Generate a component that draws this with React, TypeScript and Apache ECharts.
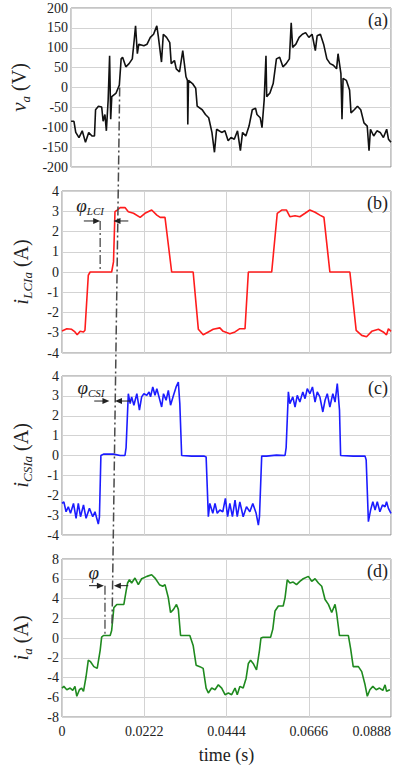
import React, { useEffect, useRef } from "react";
import * as echarts from "echarts";

// time in milliseconds, value
const vaSamples: number[][] = [
  [0, -85], [0.8, -85], [1.3, -113], [2.2, -126], [3.1, -109], [4.0, -138], [4.9, -113], [5.8, -122],
  [6.5, -122], [6.8, -56], [7.6, -47], [8.5, -49], [8.9, -85], [9.4, -68], [9.8, -109], [10.3, -31],
  [10.7, 80], [11.0, -80], [11.3, -23], [12.5, -14], [13.4, 6], [13.9, 72], [14.3, 76], [15.2, 52],
  [16.1, 60], [17.0, 72], [17.5, 117], [17.9, 155], [18.4, 85], [18.8, 109], [20.2, 105], [21.1, 109],
  [22.0, 126], [22.9, 134], [23.8, 155], [24.2, 130], [25.1, 64], [25.6, 134], [26.5, 126], [27.4, 113],
  [27.8, 60], [28.7, 68], [29.2, 47], [30.1, 39], [31.0, 93], [31.9, 27], [32.3, 18], [32.4, -93],
  [32.6, 18], [33.7, 10], [34.6, -2], [35.0, -47], [36.4, -56], [37.3, -68], [38.2, -76], [39.1, -113],
  [39.8, -163], [40.4, -105], [41.8, -113], [42.7, -109], [43.6, -134], [44.4, -126], [45.3, -130],
  [46.2, -109], [47.0, -159], [47.6, -113], [48.5, -122], [49.4, -97], [50.3, -56], [51.2, -52],
  [51.6, -68], [52.5, -76], [53.0, -101], [53.6, -31], [54.1, 80], [54.3, -23], [55.2, -14], [56.1, 10],
  [57.0, 72], [57.9, 76], [58.8, 52], [59.7, 60], [60.6, 72], [61.1, 163], [61.5, 101], [62.4, 109],
  [63.3, 126], [64.2, 134], [65.1, 138], [66.0, 126], [66.9, 134], [67.8, 93], [68.3, 130], [69.2, 134],
  [70.1, 109], [71.0, 72], [71.9, 60], [72.8, 56], [73.7, 47], [74.1, 85], [74.9, 35], [75.2, -80],
  [75.5, 23], [76.4, 18], [77.3, -6], [77.7, -64], [78.6, -56], [79.5, -47], [80.4, -56], [81.3, -89],
  [82.2, -97], [82.7, -159], [83.1, -105], [84.0, -122], [84.9, -109], [85.8, -113], [86.7, -126],
  [87.6, -105], [88.1, -130], [88.8, -138],
];

const iLciSamples: number[][] = [
  [0, -2.91], [1.3, -2.8], [2.6, -2.83], [3.5, -2.96], [4.1, -3.1], [4.9, -2.93], [5.8, -2.96],
  [6.2, -2.88], [7.1, -0.16], [7.6, 0], [13.4, 0], [13.9, 0.5], [14.3, 2.98], [14.9, 3.06], [15.7, 3.18],
  [17.0, 3.18], [17.9, 2.98], [19.3, 2.9], [21.1, 2.7], [22.4, 2.9], [24.2, 3.06], [25.6, 2.81],
  [26.5, 2.7], [27.8, 2.7], [29.6, 0], [35.0, 0], [35.4, 0], [36.8, -2.83], [38.1, -3.1], [39.5, -2.96],
  [40.8, -2.83], [42.6, -2.76], [43.5, -2.93], [45.3, -3.05], [46.7, -2.96], [48.0, -2.8], [49.4, -2.8],
  [50.3, 0], [56.6, 0], [58.1, 2.9], [59.3, 3.06], [60.6, 3.06], [61.5, 2.73], [62.9, 2.78], [64.2, 2.73],
  [65.6, 2.9], [66.9, 3.06], [68.3, 2.95], [69.6, 2.81], [70.7, 2.7], [72.3, 0], [77.7, 0], [79.4, -2.88],
  [80.9, -3.13], [82.2, -3.2], [83.6, -2.93], [85.4, -2.83], [86.7, -2.96], [87.6, -3.1], [88.1, -2.8],
  [88.8, -2.93],
];

const iCsiSamples: number[][] = [
  [0, -2.41], [0.5, -2.33], [1.1, -2.83], [1.7, -2.58], [2.3, -2.91], [3.1, -2.41], [3.8, -3.16],
  [4.4, -2.41], [5.0, -3.08], [5.8, -2.49], [6.5, -3.16], [7.4, -2.66], [8.3, -3.08], [8.9, -2.83],
  [9.8, -3.45], [10.1, -3.1], [10.5, 0], [11.2, 0.07], [13.9, 0.07], [15.7, 0], [17.0, 0], [17.3, 0.4],
  [17.9, 3.11], [18.4, 2.61], [18.8, 2.95], [19.4, 2.53], [20.2, 3.11], [20.9, 2.28], [21.5, 2.95],
  [22.1, 3.11], [22.9, 3.03], [23.5, 3.2], [23.9, 2.95], [24.5, 3.45], [25.1, 3.03], [25.6, 3.36],
  [26.3, 2.86], [26.9, 2.44], [27.4, 3.11], [28.1, 2.78], [28.7, 3.28], [29.3, 2.53], [30.1, 3.03],
  [30.8, 3.45], [31.4, 3.7], [31.8, 2.61], [32.3, 0], [35.0, -0.03], [38.3, -0.03], [38.9, -0.07],
  [39.5, -3.08], [39.9, -2.41], [40.7, -2.91], [41.3, -2.41], [41.9, -2.91], [42.6, -2.74], [43.4, -2.83],
  [44.1, -2.16], [44.7, -3.08], [45.3, -2.41], [46.0, -3.08], [46.7, -2.24], [47.3, -3.08], [48.0, -2.33],
  [48.9, -3.08], [49.8, -2.58], [50.7, -2.83], [51.5, -2.41], [52.4, -2.91], [53.0, -3.5], [53.3, -3.08],
  [53.9, -0.03], [55.2, -0.03], [57.9, 0.02], [60.2, 0], [60.5, 0.4], [61.1, 3.2], [61.5, 2.61],
  [62.3, 2.95], [62.9, 2.44], [63.5, 3.03], [64.2, 2.69], [65.0, 3.2], [65.6, 2.86], [66.2, 3.36],
  [66.9, 3.11], [67.6, 3.45], [68.3, 2.69], [68.9, 3.2], [69.6, 2.95], [70.4, 2.19], [71.0, 2.78],
  [71.6, 3.11], [72.3, 2.44], [73.1, 3.11], [73.7, 2.69], [74.3, 3.62], [74.9, 2.28], [75.2, 0],
  [78.6, -0.03], [81.8, -0.03], [82.1, -0.23], [82.7, -3.33], [83.3, -2.74], [83.9, -2.33], [84.5, -2.74],
  [85.1, -2.33], [85.8, -2.83], [86.5, -2.49], [87.2, -2.58], [87.6, -2.33], [88.1, -2.66], [88.8, -2.91],
];

const iaSamples: number[][] = [
  [0, -5.07], [0.5, -4.9], [1.3, -5.24], [2.2, -5.07], [2.9, -5.3], [3.5, -4.9], [4.0, -5.9], [4.7, -5.24],
  [5.3, -5.07], [5.8, -5.4], [6.5, -3.9], [7.1, -2.25], [7.7, -2.4], [8.6, -2.9], [9.5, -3.08],
  [10.3, -1.25], [10.7, 0.08], [11.2, 0.25], [13.0, 0.25], [13.4, 0.75], [14.0, 3.08], [14.8, 3.4],
  [16.1, 3.4], [16.7, 3.4], [17.3, 4.74], [17.7, 5.57], [18.2, 5.9], [18.8, 5.57], [19.7, 6.07],
  [20.6, 5.4], [21.5, 6.0], [22.9, 6.24], [24.2, 6.4], [25.1, 6.07], [26.3, 5.4], [27.2, 5.24],
  [27.8, 5.4], [28.7, 4.07], [29.3, 2.58], [30.1, 2.9], [30.9, 3.4], [31.4, 2.9], [32.0, 0.25],
  [34.5, 0.25], [35.4, -0.75], [36.2, -2.75], [37.2, -2.9], [38.1, -3.08], [38.9, -5.07], [39.5, -5.57],
  [40.4, -5.07], [41.3, -5.24], [42.2, -4.74], [43.1, -5.07], [44.0, -5.74], [44.9, -5.57], [45.8, -5.74],
  [46.7, -5.07], [47.3, -5.74], [48.0, -4.9], [48.9, -5.07], [49.7, -4.07], [50.3, -2.58], [50.9, -2.25],
  [51.6, -2.58], [52.5, -3.24], [53.3, -1.25], [53.7, 0], [54.3, 0.08], [56.3, 0.08], [56.9, 0.9],
  [57.5, 2.74], [58.4, 3.24], [59.7, 3.24], [60.2, 4.07], [60.8, 5.9], [61.5, 5.57], [62.4, 5.67],
  [63.3, 5.4], [64.2, 5.74], [65.1, 6.0], [66.5, 6.24], [67.4, 5.74], [68.3, 6.0], [69.2, 5.57],
  [70.1, 5.24], [71.0, 3.9], [71.9, 3.4], [72.8, 2.58], [73.7, 3.4], [74.1, 2.58], [74.9, 0.25],
  [77.3, 0.25], [77.9, -1.08], [78.6, -2.9], [80.0, -2.9], [80.9, -3.4], [81.8, -4.74], [82.4, -5.9],
  [83.1, -5.24], [83.9, -4.9], [84.8, -5.24], [85.7, -5.07], [86.6, -5.3], [87.2, -4.74], [87.6, -5.4],
  [88.5, -5.24],
];

const panelLabels = ["(a)", "(b)", "(c)", "(d)"];
const yRanges = [
  [-200, 200, 50],
  [-4, 4, 1],
  [-4, 4, 1],
  [-8, 8, 2],
];
const xTicks = [0, 22.2, 88.8]; // min, interval, max (ms)

// phase-shift annotations (data coordinates: ms, value)
const longPhaseLine = { t: 13.5, fromValue: 0, toValue: 1.2 };
const phaseMarks = [
  { grid: 1, sub: "LCI", labelT: 7.6, labelV: 3.3, y: 2.52, leftFrom: 5.9, leftTo: 10.3, vline: 10.3, vlineTo: 0, rightFrom: 17.9, rightTo: 13.9 },
  { grid: 2, sub: "CSI", labelT: 7.8, labelV: 3.4, y: 2.74, leftFrom: 8.7, leftTo: 12.8, vline: null, vlineTo: 0, rightFrom: 18.6, rightTo: 14.3 },
  { grid: 3, sub: "", labelT: 8.6, labelV: 6.6, y: 5.3, leftFrom: 7.3, leftTo: 11.3, vline: 11.6, vlineTo: 0.25, rightFrom: 17.9, rightTo: 14.0 },
];

const FONT = "Liberation Serif, Times New Roman, serif";
const GRIDS = [
  { top: 8, height: 159 },
  { top: 191, height: 162 },
  { top: 376, height: 159 },
  { top: 559, height: 160 },
];
const LEFT = 62;
const RIGHT = 14;
const COLORS = ["#111111", "#ff1c1c", "#1c1cff", "#1f8a1f"];
const NAMES = ["{it|v}{sub|a} (V)", "{it|i}{sub|LCIa} (A)", "{it|i}{sub|CSIa} (A)", "{it|i}{sub|a} (A)"];

export default function App() {
  const ref = useRef<HTMLDivElement>(null);
  useEffect(() => {
    if (!ref.current) return;
    const chart = echarts.init(ref.current, undefined, { renderer: "svg" });
    const series = [vaSamples, iLciSamples, iCsiSamples, iaSamples];
    const nameRich = {
      it: { fontStyle: "italic", fontSize: 21, fontFamily: FONT, color: "#222", lineHeight: 26 },
      sub: { fontStyle: "italic", fontSize: 13, fontFamily: FONT, color: "#222", verticalAlign: "bottom", lineHeight: 26 },
    };
    chart.setOption({
      animation: false,
      textStyle: { fontFamily: FONT },
      grid: GRIDS.map((g) => ({
        left: LEFT,
        right: RIGHT,
        top: g.top,
        height: g.height,
        show: true,
        borderColor: "#8a8a8a",
        borderWidth: 1,
      })),
      xAxis: GRIDS.map((_, i) => ({
        gridIndex: i,
        type: "value",
        min: xTicks[0],
        max: xTicks[2],
        interval: xTicks[1],
        axisLine: { show: false },
        axisTick: { show: false },
        splitLine: { show: true, lineStyle: { color: "#d3d3d3", width: 1 } },
        axisLabel: {
          show: i === 3,
          fontFamily: FONT,
          fontSize: 14,
          color: "#222",
          margin: 7,
          alignMaxLabel: "right",
          formatter: (v: number) => (v === 0 ? "0" : (v / 1000).toFixed(4)),
        },
        name: i === 3 ? "time (s)" : "",
        nameLocation: "middle",
        nameGap: 29,
        nameTextStyle: { fontFamily: FONT, fontSize: 18, color: "#222" },
      })),
      yAxis: GRIDS.map((_, i) => ({
        gridIndex: i,
        type: "value",
        min: yRanges[i][0],
        max: yRanges[i][1],
        interval: yRanges[i][2],
        axisLine: { show: false },
        axisTick: { show: false },
        splitLine: { show: true, lineStyle: { color: "#d3d3d3", width: 1 } },
        axisLabel: { fontFamily: FONT, fontSize: 14, color: "#222", margin: 3 },
        name: NAMES[i],
        nameLocation: "middle",
        nameRotate: 90,
        nameGap: 28,
        nameTextStyle: { fontFamily: FONT, fontSize: 20, color: "#222", rich: nameRich },
      })),
      series: series.map((d, i) => ({
        type: "line",
        xAxisIndex: i,
        yAxisIndex: i,
        data: d,
        showSymbol: false,
        symbol: "none",
        silent: true,
        lineStyle: { color: COLORS[i], width: 1.6 },
      })),
    });

    const P = (gi: number, t: number, v: number) =>
      chart.convertToPixel({ gridIndex: gi } as any, [t, v]) as unknown as number[];
    const g: any[] = [];
    const dashDot = [9, 3, 2, 3];
    GRIDS.forEach((gr, i) => {
      g.push({
        type: "text",
        x: 405 - RIGHT - 3,
        y: gr.top + 12,
        style: { text: panelLabels[i], fontFamily: FONT, fontSize: 18, fill: "#222", align: "right", verticalAlign: "middle" },
        z: 20,
      });
    });
    const a0 = P(0, longPhaseLine.t, longPhaseLine.fromValue);
    const a1 = P(3, longPhaseLine.t, longPhaseLine.toValue);
    g.push({
      type: "line",
      shape: { x1: a0[0], y1: a0[1], x2: a1[0], y2: a1[1] },
      style: { stroke: "#4a4a4a", lineWidth: 1.5, lineDash: dashDot },
      z: 20,
    });
    const arrow = (gi: number, from: number, to: number, v: number) => {
      const p0 = P(gi, from, v);
      const p1 = P(gi, to, v);
      const dir = Math.sign(p1[0] - p0[0]);
      g.push({
        type: "line",
        shape: { x1: p0[0], y1: p0[1], x2: p1[0] - dir * 4, y2: p1[1] },
        style: { stroke: "#222", lineWidth: 1 },
        z: 21,
      });
      g.push({
        type: "polygon",
        shape: { points: [[p1[0], p1[1]], [p1[0] - dir * 7, p1[1] - 3], [p1[0] - dir * 7, p1[1] + 3]] },
        style: { fill: "#222" },
        z: 21,
      });
    };
    phaseMarks.forEach((m) => {
      arrow(m.grid, m.leftFrom, m.leftTo, m.y);
      arrow(m.grid, m.rightFrom, m.rightTo, m.y);
      if (m.vline !== null) {
        const v0 = P(m.grid, m.vline, m.y);
        const v1 = P(m.grid, m.vline, m.vlineTo);
        g.push({
          type: "line",
          shape: { x1: v0[0], y1: v0[1], x2: v1[0], y2: v1[1] },
          style: { stroke: "#4a4a4a", lineWidth: 1.3, lineDash: dashDot },
          z: 20,
        });
      }
      const lp = P(m.grid, m.labelT, m.labelV);
      g.push({
        type: "text",
        x: lp[0],
        y: lp[1],
        style: {
          text: m.sub ? `{p|φ}{s|${m.sub}}` : "{p|φ}",
          align: "center",
          verticalAlign: "middle",
          rich: {
            p: { fontFamily: FONT, fontStyle: "italic", fontSize: 19, fill: "#222", lineHeight: 22 },
            s: { fontFamily: FONT, fontStyle: "italic", fontSize: 11, fill: "#222", verticalAlign: "bottom", lineHeight: 22 },
          },
        },
        z: 21,
      });
    });
    chart.setOption({ graphic: g });
    return () => chart.dispose();
  }, []);
  return (
    <div
      ref={ref}
      style={{ position: "fixed", left: 0, top: 0, width: 405, height: 765, background: "#fff" }}
    />
  );
}
